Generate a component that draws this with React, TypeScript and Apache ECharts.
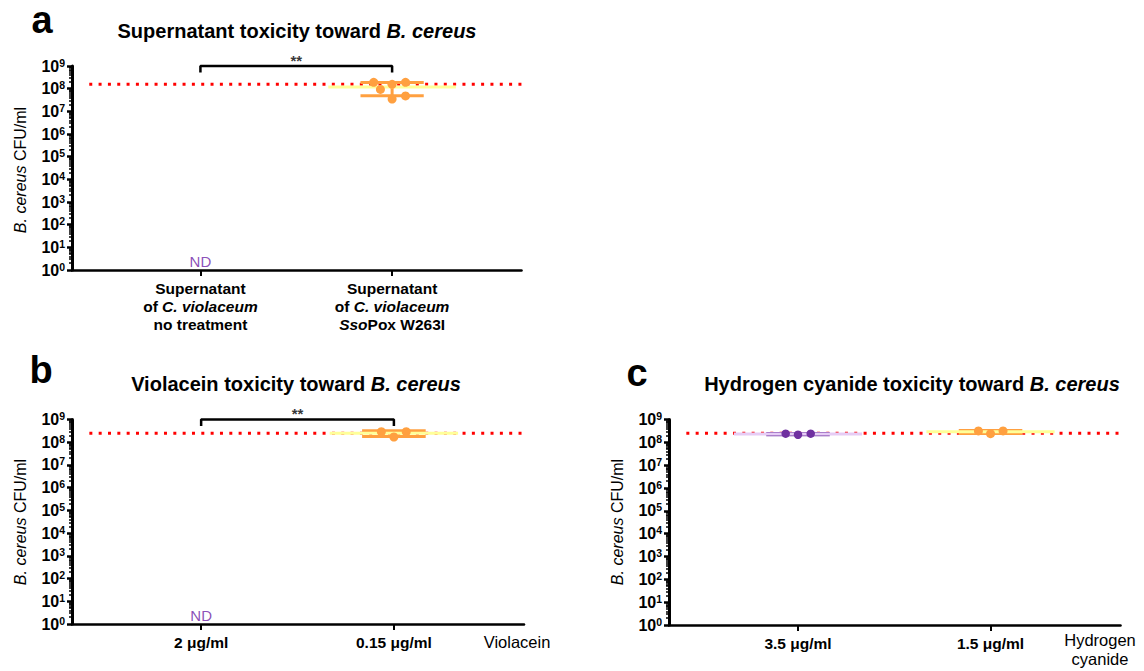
import React, { useEffect, useRef } from 'react';
import * as echarts from 'echarts';

const FONT = '"Liberation Sans", Arial, Helvetica, sans-serif';

// ---------- data ----------
const aCategories = [
  '{b|Supernatant}\n{b|of }{bi|C. violaceum}\n{b|no treatment}',
  '{b|Supernatant}\n{b|of }{bi|C. violaceum}\n{bi|Sso}{b|Pox W263I}',
];
const aControlLevel = 1.55e8;
const aTreated = [1.9e8, 1.9e8, 1.55e8, 9.3e7, 3.5e7, 4.8e7];
const aTreatedJitter = [-0.096, 0.07, 0, -0.061, 0, 0.07];

const bCategories = ['{b|2 μg/ml}', '{b|0.15 μg/ml}'];
const bControlLevel = 2.47e8;
const bLowDose = [2.9e8, 1.7e8, 2.9e8];
const bLowDoseJitter = [-0.065, 0, 0.064];

const cCategories = ['{b|3.5 μg/ml}', '{b|1.5 μg/ml}'];
const cControlLevel = 2.47e8;
const cHighDose = [2.4e8, 2.15e8, 2.4e8];
const cHighDoseJitter = [-0.064, 0, 0.066];
const cLowDose = [3.15e8, 2.4e8, 3.15e8];
const cLowDoseJitter = [-0.063, 0, 0.065];

const notDetectedLevel = 1;
const bracketTop = 1e9;
const bracketFoot = 5.2e8;

// ---------- styling helpers ----------
const ORANGE = '#FFA040';
const YELLOW = '#FFFF99';
const PURPLE = '#7030A0';
const LILAC = '#E6CCF5';
const X_MIN = 0.33;
const X_MAX = 2.675;

const mean = (a: number[]) => a.reduce((s, v) => s + v, 0) / a.length;
const sd = (a: number[]) => {
  const m = mean(a);
  return Math.sqrt(a.reduce((s, v) => s + (v - m) * (v - m), 0) / (a.length - 1));
};

const minorTicks: number[] = [];
for (let d = 0; d < 9; d++) for (let k = 2; k <= 9; k++) minorTicks.push(d + Math.log10(k));

function errRender(capColor: string, meanColor: string) {
  return (params: any, api: any) => {
    const x = api.value(0);
    const m = api.value(1);
    const lo = api.value(2);
    const hi = api.value(3);
    const pm = api.coord([x, m]);
    const pl = api.coord([x, lo]);
    const ph = api.coord([x, hi]);
    const unit = api.coord([x + 1, m])[0] - pm[0];
    const capHalf = 0.165 * unit;
    const meanHalf = 0.333 * unit;
    const st = { stroke: capColor, lineWidth: 3 };
    return {
      type: 'group',
      children: [
        { type: 'line', shape: { x1: pm[0], y1: ph[1], x2: pm[0], y2: pl[1] }, style: st },
        { type: 'line', shape: { x1: pm[0] - capHalf, y1: ph[1], x2: pm[0] + capHalf, y2: ph[1] }, style: st },
        { type: 'line', shape: { x1: pm[0] - capHalf, y1: pl[1], x2: pm[0] + capHalf, y2: pl[1] }, style: st },
        { type: 'line', shape: { x1: pm[0] - meanHalf, y1: pm[1], x2: pm[0] + meanHalf, y2: pm[1] }, style: { stroke: meanColor, lineWidth: 3 } },
      ],
    };
  };
}

function errData(x: number, vals: number[]) {
  const m = mean(vals);
  const s = sd(vals);
  return [[x, m, m - s, m + s]];
}

function xAxisCfg(gridIndex: number, labels: string[]) {
  return {
    gridIndex,
    type: 'value',
    min: X_MIN,
    max: X_MAX,
    splitLine: { show: false },
    axisLine: { show: true, lineStyle: { color: '#000', width: 2.5 } },
    axisTick: { show: true, customValues: [1, 2], length: 6, lineStyle: { color: '#000', width: 2 } },
    axisLabel: {
      customValues: [1, 2],
      margin: 9,
      formatter: (v: number) => labels[Math.round(v) - 1] || '',
      color: '#000',
      fontFamily: FONT,
      fontSize: 15.5,
      fontWeight: 'bold',
      lineHeight: 18,
      rich: {
        b: { fontSize: 15.5, fontWeight: 'bold', color: '#000', fontFamily: FONT, lineHeight: 18 },
        bi: { fontSize: 15.5, fontWeight: 'bold', fontStyle: 'italic', color: '#000', fontFamily: FONT, lineHeight: 18 },
      },
    },
  };
}

function yAxisCfg(gridIndex: number) {
  return {
    gridIndex,
    type: 'log',
    logBase: 10,
    min: 1,
    max: 1e9,
    interval: 1,
    splitLine: { show: false },
    axisLine: { show: true, lineStyle: { color: '#000', width: 3 } },
    axisTick: { show: true, length: 5, lineStyle: { color: '#000', width: 2.5 } },
    axisLabel: {
      margin: 7,
      formatter: (v: number) => '{b|10}{s|' + Math.round(Math.log10(v)) + '}',
      rich: {
        b: { fontSize: 16, fontWeight: 'bold', color: '#000', fontFamily: FONT, lineHeight: 18, verticalAlign: 'middle' },
        s: { fontSize: 10.5, fontWeight: 'bold', color: '#000', fontFamily: FONT, lineHeight: 18, verticalAlign: 'top' },
      },
    },
  };
}

function yMinorCfg(gridIndex: number) {
  return {
    gridIndex,
    type: 'value',
    min: 0,
    max: 9,
    position: 'left',
    axisLine: { show: false },
    axisLabel: { show: false },
    splitLine: { show: false },
    axisTick: { show: true, customValues: minorTicks, length: 3, lineStyle: { color: '#000', width: 1.5 } },
  };
}

function controlLine(idx: number, level: number) {
  return {
    type: 'line',
    xAxisIndex: idx,
    yAxisIndex: idx * 2,
    data: [[0.42, level], [2.72, level]],
    symbol: 'none',
    clip: false,
    silent: true,
    z: 1,
    lineStyle: { color: '#FF0000', width: 3, type: [3, 6.33], cap: 'butt' },
  };
}

function dots(idx: number, x: number, vals: number[], jitter: number[], color: string, size: number) {
  return {
    type: 'scatter',
    xAxisIndex: idx,
    yAxisIndex: idx * 2,
    data: vals.map((v, i) => [x + jitter[i], v]),
    symbol: 'circle',
    symbolSize: size,
    itemStyle: { color, opacity: 1 },
    clip: false,
    z: 5,
  };
}

function errSeries(idx: number, x: number, vals: number[], cap: string, meanC: string) {
  return {
    type: 'custom',
    xAxisIndex: idx,
    yAxisIndex: idx * 2,
    data: errData(x, vals),
    renderItem: errRender(cap, meanC),
    clip: false,
    z: 3,
  };
}

function bracket(idx: number) {
  return [
    {
      type: 'line',
      xAxisIndex: idx,
      yAxisIndex: idx * 2,
      data: [[1, bracketFoot], [1, bracketTop], [2, bracketTop], [2, bracketFoot]],
      symbol: 'none',
      clip: false,
      z: 4,
      lineStyle: { color: '#000', width: 2.5 },
    },
    {
      type: 'scatter',
      xAxisIndex: idx,
      yAxisIndex: idx * 2,
      data: [[1.5, bracketTop]],
      symbolSize: 1,
      itemStyle: { color: 'rgba(0,0,0,0)' },
      clip: false,
      z: 4,
      label: {
        show: true,
        formatter: '**',
        position: 'top',
        distance: -2,
        fontSize: 15,
        fontWeight: 'bold',
        color: '#000',
        fontFamily: FONT,
      },
    },
  ];
}

function notDetected(idx: number) {
  return {
    type: 'scatter',
    xAxisIndex: idx,
    yAxisIndex: idx * 2,
    data: [[1, notDetectedLevel]],
    symbolSize: 1,
    itemStyle: { color: 'rgba(0,0,0,0)' },
    clip: false,
    z: 4,
    label: {
      show: true,
      formatter: 'ND',
      position: 'top',
      distance: 1,
      fontSize: 15,
      color: '#6E22A6',
      fontFamily: FONT,
    },
  };
}

function titleText(x: number, y: number, plain: string) {
  return {
    type: 'text',
    x,
    y,
    style: {
      text: '{t|' + plain + '}{ti|B. cereus}',
      align: 'center',
      verticalAlign: 'middle',
      rich: {
        t: { fontSize: 20, fontWeight: 'bold', fill: '#000', fontFamily: FONT },
        ti: { fontSize: 20, fontWeight: 'bold', fontStyle: 'italic', fill: '#000', fontFamily: FONT },
      },
    },
  };
}

function yName(x: number, y: number) {
  return {
    type: 'text',
    x,
    y,
    rotation: Math.PI / 2,
    style: {
      text: '{i|B. cereus}{r| CFU/ml}',
      align: 'center',
      verticalAlign: 'middle',
      fontSize: 16,
      fontFamily: FONT,
      fill: '#000',
      rich: {
        i: { fontSize: 16, fontStyle: 'italic', fill: '#000', fontFamily: FONT },
        r: { fontSize: 16, fill: '#000', fontFamily: FONT },
      },
    },
  };
}

function letter(x: number, y: number, t: string) {
  return {
    type: 'text',
    x,
    y,
    style: { text: t, fontSize: 38, fontWeight: 'bold', fill: '#000', fontFamily: FONT, align: 'center', verticalAlign: 'middle' },
  };
}

export default function App() {
  const ref = useRef<HTMLDivElement>(null);
  useEffect(() => {
    if (!ref.current) return;
    const chart = echarts.init(ref.current, null, { renderer: 'svg' });
    const option: any = {
      animation: false,
      backgroundColor: '#fff',
      grid: [
        { left: 72, top: 66, width: 449.5, height: 204 },
        { left: 72, top: 419.5, width: 452, height: 204.5 },
        { left: 669, top: 419.5, width: 451.5, height: 205.5 },
      ],
      xAxis: [xAxisCfg(0, aCategories), xAxisCfg(1, bCategories), xAxisCfg(2, cCategories)],
      yAxis: [yAxisCfg(0), yMinorCfg(0), yAxisCfg(1), yMinorCfg(1), yAxisCfg(2), yMinorCfg(2)],
      series: [
        controlLine(0, aControlLevel),
        ...bracket(0),
        notDetected(0),
        errSeries(0, 2, aTreated, ORANGE, YELLOW),
        dots(0, 2, aTreated, aTreatedJitter, ORANGE, 9),

        controlLine(1, bControlLevel),
        ...bracket(1),
        notDetected(1),
        errSeries(1, 2, bLowDose, ORANGE, YELLOW),
        dots(1, 2, bLowDose, bLowDoseJitter, ORANGE, 9),

        controlLine(2, cControlLevel),
        errSeries(2, 1, cHighDose, PURPLE, LILAC),
        dots(2, 1, cHighDose, cHighDoseJitter, PURPLE, 8.5),
        errSeries(2, 2, cLowDose, ORANGE, YELLOW),
        dots(2, 2, cLowDose, cLowDoseJitter, ORANGE, 9),
      ],
      graphic: [
        letter(42, 20, 'a'),
        letter(41, 370, 'b'),
        letter(637, 373, 'c'),
        titleText(297, 31, 'Supernatant toxicity toward '),
        titleText(296, 384, 'Violacein toxicity toward '),
        titleText(912, 384, 'Hydrogen cyanide toxicity toward '),
        yName(20, 170),
        yName(20, 522),
        yName(617, 522),
        {
          type: 'text',
          x: 517,
          y: 642,
          style: { text: 'Violacein', fontSize: 16.5, fill: '#000', fontFamily: FONT, align: 'center', verticalAlign: 'middle' },
        },
        {
          type: 'text',
          x: 1100,
          y: 630,
          style: { text: 'Hydrogen\ncyanide', fontSize: 16.5, lineHeight: 19, fill: '#000', fontFamily: FONT, align: 'center', verticalAlign: 'top' },
        },
      ],
    };
    chart.setOption(option);
    return () => chart.dispose();
  }, []);
  return (
    <div
      ref={ref}
      style={{ position: 'absolute', left: 0, top: 0, width: 1144, height: 671, background: '#fff' }}
    />
  );
}
